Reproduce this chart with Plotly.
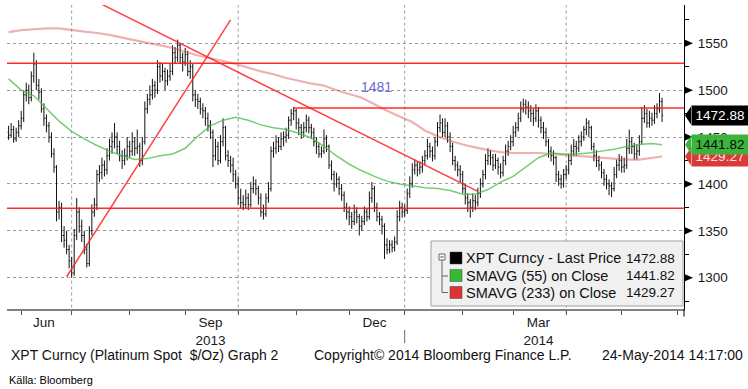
import pandas as pd
import plotly.graph_objects as go

# ---------------- data ----------------
trade_dates = pd.bdate_range("2013-05-27", periods=260)

opens = [1455,1452,1458,1448,1455,1462,1470,1495,1500,1492,
         1515,1528,1505,1498,1480,1470,1462,1450,1432,1418,
         1370,1375,1345,1340,1330,1318,1305,1345,1370,1355,
         1345,1330,1315,1350,1370,1378,1410,1412,1420,1415,
         1430,1440,1445,1450,1440,1430,1425,1430,1440,1435,
         1445,1438,1440,1425,1445,1480,1490,1495,1505,1500,
         1525,1515,1520,1510,1515,1520,1540,1535,1548,1535,
         1530,1538,1520,1525,1495,1490,1488,1480,1478,1470,
         1462,1455,1430,1440,1425,1445,1460,1430,1425,1420,
         1410,1400,1385,1380,1378,1385,1378,1395,1400,1395,
         1385,1370,1368,1385,1395,1435,1438,1445,1440,1448,
         1450,1452,1468,1475,1478,1465,1460,1455,1460,1468,
         1460,1455,1445,1440,1432,1435,1448,1440,1420,1410,
         1400,1405,1395,1388,1375,1370,1365,1360,1370,1365,
         1355,1360,1370,1365,1385,1395,1375,1365,1362,1355,
         1335,1330,1335,1332,1338,1365,1375,1370,1372,1390,
         1400,1415,1420,1415,1418,1425,1430,1440,1435,1430,
         1445,1460,1465,1455,1462,1450,1440,1425,1420,1415,
         1410,1395,1385,1380,1375,1382,1380,1390,1400,1410,
         1425,1430,1428,1420,1425,1418,1412,1425,1435,1440,
         1445,1455,1460,1470,1480,1485,1482,1478,1475,1470,
         1478,1468,1460,1455,1445,1435,1430,1428,1410,1405,
         1400,1410,1415,1425,1435,1440,1438,1445,1450,1458,
         1465,1460,1440,1430,1425,1420,1412,1405,1400,1398,
         1395,1410,1420,1425,1418,1420,1438,1445,1440,1432,
         1435,1445,1470,1475,1465,1470,1468,1475,1480,1488]
highs = [1462,1465,1462,1460,1468,1478,1500,1508,1506,1520,
         1540,1532,1512,1502,1486,1474,1466,1455,1438,1420,
         1382,1380,1355,1350,1335,1322,1352,1385,1375,1362,
         1350,1336,1355,1378,1385,1415,1420,1428,1425,1438,
         1448,1455,1465,1455,1446,1436,1438,1450,1446,1455,
         1450,1458,1444,1450,1488,1496,1505,1512,1510,1532,
         1530,1528,1524,1522,1528,1548,1546,1554,1550,1540,
         1545,1542,1532,1528,1500,1496,1492,1486,1482,1476,
         1468,1458,1448,1445,1452,1470,1462,1436,1430,1428,
         1415,1408,1395,1388,1394,1390,1402,1408,1405,1398,
         1390,1378,1390,1402,1440,1445,1452,1450,1455,1456,
         1460,1472,1480,1482,1480,1470,1464,1466,1474,1472,
         1464,1460,1450,1444,1440,1458,1452,1442,1425,1414,
         1412,1408,1400,1392,1380,1376,1370,1378,1375,1368,
         1366,1376,1374,1392,1402,1398,1380,1370,1366,1358,
         1342,1340,1340,1344,1372,1382,1380,1378,1395,1408,
         1422,1426,1424,1424,1430,1436,1448,1444,1440,1450,
         1466,1474,1470,1470,1466,1455,1444,1430,1424,1420,
         1414,1400,1390,1384,1390,1388,1396,1406,1415,1432,
         1438,1436,1432,1432,1428,1422,1430,1442,1446,1452,
         1462,1466,1476,1488,1491,1490,1488,1484,1480,1485,
         1482,1472,1466,1460,1448,1440,1436,1430,1414,1410,
         1416,1420,1432,1442,1448,1446,1452,1456,1462,1470,
         1468,1462,1444,1436,1430,1424,1416,1410,1405,1402,
         1418,1426,1432,1430,1428,1448,1458,1450,1444,1442,
         1452,1482,1484,1480,1478,1476,1484,1486,1497,1492]
lows = [1447,1449,1444,1445,1450,1458,1466,1488,1485,1488,
        1508,1500,1490,1476,1462,1455,1444,1428,1412,1360,
        1362,1338,1332,1325,1310,1300,1302,1340,1348,1338,
        1325,1311,1312,1345,1365,1372,1402,1405,1408,1410,
        1425,1432,1438,1432,1424,1416,1420,1425,1428,1430,
        1430,1432,1418,1420,1442,1475,1484,1490,1492,1496,
        1508,1510,1500,1505,1510,1516,1528,1530,1528,1520,
        1526,1515,1512,1488,1482,1480,1474,1470,1462,1456,
        1448,1418,1425,1420,1422,1440,1425,1418,1412,1402,
        1395,1378,1374,1372,1374,1372,1375,1390,1388,1378,
        1365,1362,1365,1380,1392,1428,1432,1434,1436,1440,
        1444,1448,1462,1468,1458,1452,1448,1450,1455,1454,
        1448,1440,1432,1428,1428,1432,1434,1416,1404,1392,
        1396,1388,1382,1370,1362,1356,1352,1356,1358,1345,
        1350,1356,1360,1362,1380,1370,1360,1356,1346,1320,
        1325,1326,1327,1328,1335,1360,1364,1365,1368,1385,
        1396,1410,1408,1410,1412,1420,1426,1428,1424,1426,
        1440,1455,1450,1450,1444,1434,1420,1414,1408,1402,
        1390,1378,1370,1364,1370,1372,1376,1385,1396,1405,
        1420,1420,1414,1416,1410,1406,1408,1420,1430,1436,
        1440,1450,1456,1466,1476,1474,1470,1466,1462,1466,
        1460,1454,1448,1440,1428,1424,1420,1402,1398,1395,
        1396,1405,1410,1420,1430,1430,1434,1440,1446,1452,
        1450,1436,1424,1418,1414,1406,1398,1394,1388,1386,
        1392,1406,1414,1412,1412,1416,1432,1432,1426,1426,
        1430,1442,1465,1460,1460,1462,1464,1470,1476,1466]
closes = [1452,1458,1448,1455,1462,1470,1495,1500,1492,1515,
          1528,1505,1498,1480,1470,1462,1450,1432,1418,1370,
          1375,1345,1340,1330,1318,1305,1345,1370,1355,1345,
          1330,1315,1350,1370,1378,1410,1412,1420,1415,1430,
          1440,1445,1450,1440,1430,1425,1430,1440,1435,1445,
          1438,1440,1425,1445,1480,1490,1495,1505,1500,1525,
          1515,1520,1510,1515,1520,1540,1535,1548,1535,1530,
          1538,1520,1525,1495,1490,1488,1480,1478,1470,1462,
          1455,1430,1440,1425,1445,1460,1430,1425,1420,1410,
          1400,1385,1380,1378,1385,1378,1395,1400,1395,1385,
          1370,1368,1385,1395,1435,1438,1445,1440,1448,1450,
          1452,1468,1475,1478,1465,1460,1455,1460,1468,1460,
          1455,1445,1440,1432,1435,1448,1440,1420,1410,1400,
          1405,1395,1388,1375,1370,1365,1360,1370,1365,1355,
          1360,1370,1365,1385,1395,1375,1365,1362,1355,1335,
          1330,1335,1332,1338,1365,1375,1370,1372,1390,1400,
          1415,1420,1415,1418,1425,1430,1440,1435,1430,1445,
          1460,1465,1455,1462,1450,1440,1425,1420,1415,1410,
          1395,1385,1380,1375,1382,1380,1390,1400,1410,1425,
          1430,1428,1420,1425,1418,1412,1425,1435,1440,1445,
          1455,1460,1470,1480,1485,1482,1478,1475,1470,1478,
          1468,1460,1455,1445,1435,1430,1428,1410,1405,1400,
          1410,1415,1425,1435,1440,1438,1445,1450,1458,1465,
          1460,1440,1430,1425,1420,1412,1405,1400,1398,1395,
          1410,1420,1425,1418,1420,1438,1445,1440,1432,1435,
          1445,1470,1475,1465,1470,1468,1475,1480,1488,1472.88]

ma_dates = list(pd.date_range("2013-05-27", periods=52, freq="7D")) + [pd.Timestamp("2014-05-23")]
sma55 = [1512,1500,1494,1481,1467,1456,1448,1441,1435,1430,
         1426,1427,1430,1432,1438,1451,1462,1468,1471,1468,
         1463,1460,1458,1454,1449,1440,1430,1421,1414,1408,
         1403,1400,1398,1396,1395,1393,1389,1389,1394,1402,
         1408,1418,1428,1433,1432,1432,1433,1435,1437,1440,
         1442,1443,1441.82]
sma233 = [1562,1564,1565,1566,1566,1564,1562.5,1561,1559,1556,
          1553,1550.5,1548,1545,1541,1537,1534,1531,1528,1524,
          1520,1517,1513,1510,1507,1505,1500,1496,1492,1485,
          1478,1472,1466,1457,1451,1446,1442,1439,1436,1434,
          1433,1433,1433,1432,1431,1430,1429,1428,1427.5,1426,
          1426,1428,1429.27]

full_levels = [1528.7, 1374]
mid_level = 1481
mid_level_start = "2013-10-31"
mid_level_label = "1481"
trend_down_dates = ["2013-07-17", "2014-02-11"]
trend_down_vals = [1591.5, 1392]
trend_up_dates = ["2013-06-27", "2013-09-26"]
trend_up_vals = [1301, 1575]

y_ticks = [1300, 1350, 1400, 1450, 1500, 1550]
y_minor = [1275, 1325, 1375, 1425, 1475, 1525, 1575]
month_starts = ["2013-06-03", "2013-07-01", "2013-08-01", "2013-09-02", "2013-10-01",
                "2013-11-01", "2013-12-02", "2014-01-01", "2014-02-03", "2014-03-03",
                "2014-04-01", "2014-05-01", "2014-06-02"]
quarter_starts = ["2013-07-01", "2013-10-01", "2014-01-01", "2014-04-01"]
label_dates = ["2013-06-14", "2013-09-16", "2013-12-16", "2014-03-17"]
label_text = ["Jun", "Sep<br>2013", "Dec", "Mar<br>2014"]
year_break = "2014-01-01"

legend_names = ["XPT Curncy - Last Price", "SMAVG (55) on Close", "SMAVG (233) on Close"]
legend_values = [closes[-1], sma55[-1], sma233[-1]]

# ---------------- layout geometry ----------------
W, H = 748, 389
ML, MR, MT, MB = 7, 64, 5, 80
PW, PH = W - ML - MR, H - MT - MB
X_RANGE = ["2013-05-24 08:53", "2014-06-04 16:48"]
Y_RANGE = [1266.6, 1590.85]
FONT = "Liberation Sans, Arial, sans-serif"
NARROW = "Liberation Sans Narrow, Arial Narrow, Liberation Sans, sans-serif"

def px(x):
    return (x - ML) / PW

def py(y):
    return (MT + PH - y) / PH

fig = go.Figure()

fig.add_trace(go.Scatter(x=ma_dates, y=sma233, mode="lines",
                         line=dict(color="rgba(215,70,70,0.42)", width=2.2),
                         hoverinfo="skip"))
fig.add_trace(go.Scatter(x=ma_dates, y=sma55, mode="lines",
                         line=dict(color="rgba(70,190,70,0.75)", width=1.5),
                         hoverinfo="skip"))
fig.add_trace(go.Ohlc(x=trade_dates, open=opens, high=highs, low=lows, close=closes,
                      increasing=dict(line=dict(color="#111", width=1)),
                      decreasing=dict(line=dict(color="#111", width=1)),
                      tickwidth=0.4, hoverinfo="skip"))
fig.add_trace(go.Scatter(x=trend_down_dates, y=trend_down_vals, mode="lines",
                         line=dict(color="rgba(255,30,30,0.85)", width=1.5), hoverinfo="skip"))
fig.add_trace(go.Scatter(x=trend_up_dates, y=trend_up_vals, mode="lines",
                         line=dict(color="rgba(255,30,30,0.85)", width=1.5), hoverinfo="skip"))

shapes = []
for q in quarter_starts:
    shapes.append(dict(type="line", xref="x", yref="paper", x0=q, x1=q, y0=-0.015, y1=1,
                       line=dict(color="#9a9a9a", width=1, dash="dot"), layer="below"))
shapes.append(dict(type="line", xref="x", yref="paper", x0=year_break, x1=year_break,
                   y0=py(330), y1=py(343), line=dict(color="#666", width=1)))
for lv in full_levels:
    shapes.append(dict(type="line", xref="paper", yref="y", x0=0, x1=1, y0=lv, y1=lv,
                       line=dict(color="rgba(255,20,20,0.9)", width=1.5)))
shapes.append(dict(type="line", xref="x", yref="y", x0=mid_level_start, x1=X_RANGE[1],
                   y0=mid_level, y1=mid_level, line=dict(color="rgba(255,20,20,0.9)", width=1.5)))
for t in y_ticks:
    shapes.append(dict(type="path", xref="paper", yref="y", xsizemode="pixel", ysizemode="pixel",
                       xanchor=1, yanchor=t, path="M1,-3.5 L9,0 L1,3.5 Z",
                       fillcolor="black", line=dict(width=0)))
shapes.append(dict(type="line", xref="paper", yref="paper", x0=1, x1=1, y0=-0.025, y1=0,
                   line=dict(color="black", width=1)))

tag_vals = [sma233[-1], sma55[-1], closes[-1]]
tag_cols = ["#d93a3a", "#3cb43c", "#000000"]
for v, c in zip(tag_vals, tag_cols):
    shapes.append(dict(type="path", xref="paper", yref="y", xsizemode="pixel", ysizemode="pixel",
                       xanchor=1, yanchor=v, path="M1,0 L7,-9 L7,9 Z",
                       fillcolor=c, line=dict(width=0)))

shapes.append(dict(type="rect", xref="paper", yref="paper", x0=px(431), x1=px(683),
                   y0=py(306), y1=py(241), fillcolor="#f0f0f0",
                   line=dict(color="#a0a0a0", width=1)))
shapes.append(dict(type="rect", xref="paper", yref="paper", x0=px(439), x1=px(445),
                   y0=py(260), y1=py(254), fillcolor="white", line=dict(color="#666", width=1)))
shapes.append(dict(type="line", xref="paper", yref="paper", x0=px(440.5), x1=px(443.5),
                   y0=py(257), y1=py(257), line=dict(color="#333", width=1)))
shapes.append(dict(type="line", xref="paper", yref="paper", x0=px(442), x1=px(442),
                   y0=py(260), y1=py(292.5), line=dict(color="#666", width=1)))
for yy in [276, 292.5]:
    shapes.append(dict(type="line", xref="paper", yref="paper", x0=px(442), x1=px(448),
                       y0=py(yy), y1=py(yy), line=dict(color="#666", width=1)))
sq_cols = ["#000000", "#33bb33", "#dd3333"]
row_y = [258, 275.5, 292.5]
for c, yy in zip(sq_cols, row_y):
    shapes.append(dict(type="rect", xref="paper", yref="paper", x0=px(450), x1=px(462),
                       y0=py(yy + 6), y1=py(yy - 6), fillcolor=c, line=dict(color="#444", width=0.5)))

annotations = []
for name, val, yy in zip(legend_names, legend_values, row_y):
    annotations.append(dict(xref="paper", yref="paper", x=px(464), y=py(yy), text=name,
                            xanchor="left", yanchor="middle", showarrow=False,
                            font=dict(family=FONT, size=14.5, color="#111")))
    annotations.append(dict(xref="paper", yref="paper", x=px(677), y=py(yy), text=f"{val:.2f}",
                            xanchor="right", yanchor="middle", showarrow=False,
                            font=dict(family=FONT, size=13.5, color="#111")))

tag_text_cols = ["#ffe0e0", "#0a0a0a", "#ffffff"]
for v, c, tc in zip(tag_vals, tag_cols, tag_text_cols):
    annotations.append(dict(xref="paper", yref="y", x=1, y=v, xanchor="left", yanchor="middle",
                            xshift=7, text=f"{v:.2f}", showarrow=False, bgcolor=c,
                            width=54, height=17, borderpad=1,
                            font=dict(family=FONT, size=13.5, color=tc)))

annotations.append(dict(xref="x", yref="y", x="2013-12-17", y=1503, text=mid_level_label,
                        showarrow=False, font=dict(family=FONT, size=14, color="#6b6bd4")))

annotations.append(dict(xref="paper", yref="paper", x=px(9), y=py(355), xanchor="left", yanchor="middle",
                        text="XPT Curncy (Platinum Spot\u00a0 $/Oz) Graph 2", showarrow=False,
                        font=dict(family=FONT, size=14, color="#111")))
annotations.append(dict(xref="paper", yref="paper", x=px(312), y=py(355), xanchor="left", yanchor="middle",
                        text="Copyright\u00a9 2014 Bloomberg Finance L.P.", showarrow=False,
                        font=dict(family=FONT, size=14, color="#111")))
annotations.append(dict(xref="paper", yref="paper", x=px(600), y=py(355), xanchor="left", yanchor="middle",
                        text="24-May-2014 14:17:00", showarrow=False,
                        font=dict(family=FONT, size=14, color="#111")))
annotations.append(dict(xref="paper", yref="paper", x=px(7), y=py(380), xanchor="left", yanchor="middle",
                        text="K\u00e4lla: Bloomberg", showarrow=False,
                        font=dict(family=NARROW, size=11, color="#000")))

fig.update_layout(
    width=W, height=H, margin=dict(l=ML, r=MR, t=MT, b=MB),
    paper_bgcolor="white", plot_bgcolor="white", showlegend=False,
    font=dict(family=FONT, size=13, color="#1a1a1a"),
    shapes=shapes, annotations=annotations,
)
fig.update_xaxes(
    type="date", rangebreaks=[dict(bounds=["sat", "mon"])], range=X_RANGE,
    rangeslider_visible=False, showgrid=False, zeroline=False,
    showline=True, linecolor="#808080", linewidth=2,
    tickmode="array", tickvals=label_dates, ticktext=label_text, ticks="",
    tickfont=dict(family=FONT, size=13.5, color="#1a1a1a"),
    minor=dict(tickvals=month_starts, ticks="outside", ticklen=4, tickcolor="#555", tickwidth=1, showgrid=False),
)
fig.update_yaxes(
    side="right", range=Y_RANGE, zeroline=False,
    tickmode="array", tickvals=y_ticks, ticktext=[str(t) for t in y_ticks],
    showgrid=True, gridcolor="#9a9a9a", griddash="dot", gridwidth=1,
    showline=True, linecolor="black", linewidth=1, ticks="", ticklabelstandoff=10,
    tickfont=dict(family=FONT, size=13.5, color="#1a1a1a"),
    minor=dict(tickvals=y_minor, ticks="outside", ticklen=4, tickcolor="black", showgrid=False),
)

fig.write_html("out.html", config={"displayModeBar": False},
               post_script="document.body.style.margin='0';document.body.style.overflow='hidden';")
